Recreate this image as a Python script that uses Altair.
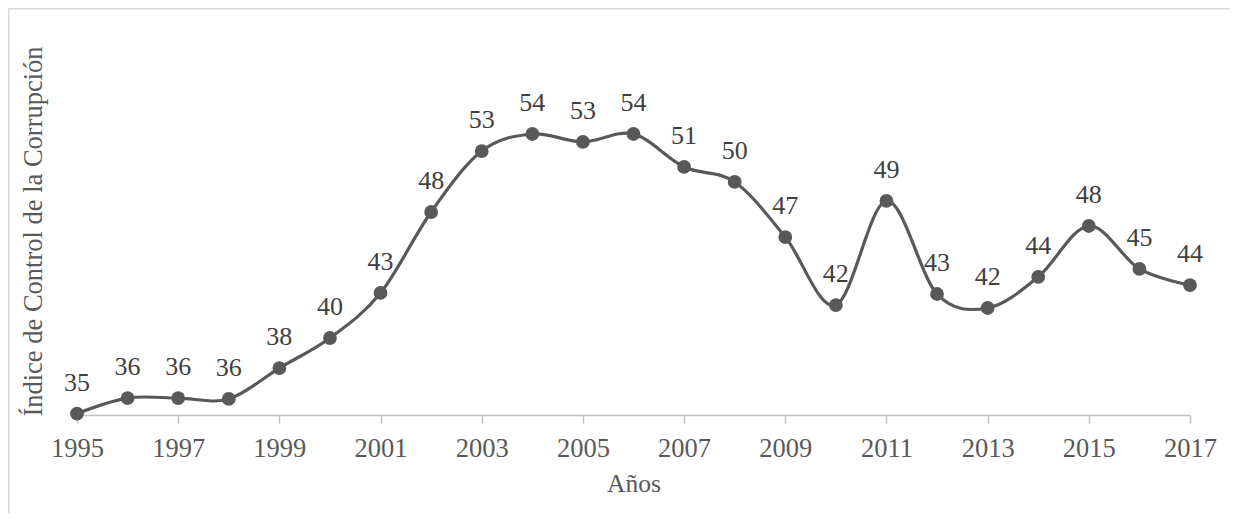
import altair as alt
import pandas as pd

years = list(range(1995, 2018))
values = [35.1, 36.15, 36.15, 36.09, 38.19, 40.23, 43.29, 48.79, 52.93, 54.09,
          53.55, 54.09, 51.85, 50.83, 47.09, 42.47, 49.54, 43.22, 42.27, 44.38,
          47.84, 44.92, 43.83]
labels = ["35", "36", "36", "36", "38", "40", "43", "48", "53", "54", "53", "54",
          "51", "50", "47", "42", "49", "43", "42", "44", "48", "45", "44"]
tick_years = list(range(1995, 2018, 2))

df = pd.DataFrame({"year": years, "value": values, "label": labels})

FONT = "Liberation Serif"
W, H = 1113, 368

x = alt.X("year:Q",
          scale=alt.Scale(domain=[1995, 2017], nice=False, zero=False),
          axis=alt.Axis(title="Años", values=tick_years, format="d",
                        grid=False, domainColor="#bfbfbf", domainWidth=1.5,
                        tickColor="#bfbfbf", tickWidth=1.5, tickSize=8,
                        labelFont=FONT, labelFontSize=26.5, labelColor="#595959",
                        labelPadding=12, labelFlush=False,
                        titleFont=FONT, titleFontSize=25.5, titleColor="#595959",
                        titleFontWeight="normal", titlePadding=10))
y = alt.Y("value:Q",
          scale=alt.Scale(domain=[35, 60], nice=False, zero=False),
          axis=alt.Axis(title="Índice de Control de la Corrupción",
                        labels=False, ticks=False, domain=False, grid=False,
                        titleFont=FONT, titleFontSize=26.5, titleColor="#595959",
                        titleFontWeight="normal", titlePadding=30))

base = alt.Chart(df)

line = base.mark_line(color="#595959", strokeWidth=3.2,
                      interpolate="cardinal").encode(x=x, y=y)
pts = base.mark_circle(color="#595959", size=190, opacity=1).encode(x=x, y=y)
txt = base.mark_text(font=FONT, fontSize=26, color="#404040",
                     baseline="alphabetic", dy=-23).encode(x=x, y=y, text="label:N")

frame = alt.Chart(pd.DataFrame({"a": [0]})).mark_rect(
    fillOpacity=0, stroke="#d9d9d9", strokeWidth=1.5
).encode(x=alt.value(-68.25), x2=alt.value(W + 200),
         y=alt.value(-38.25), y2=alt.value(H + 300))

chart = alt.layer(frame, line, pts, txt).properties(
    width=W, height=H,
    autosize=alt.AutoSizeParams(type="none"),
    padding={"left": 69, "top": 39, "right": 40, "bottom": 98},
).configure_view(stroke=None)

chart.save("out.html", embed_options={"renderer": "svg", "actions": False})
